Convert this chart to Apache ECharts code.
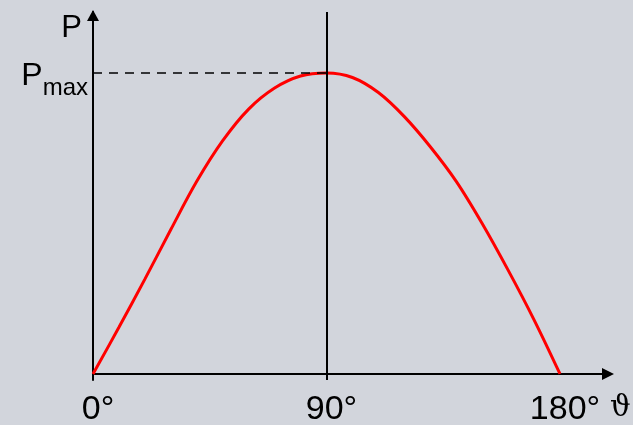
<!DOCTYPE html>
<html>
<head>
<meta charset="utf-8">
<style>
  html, body { margin: 0; padding: 0; background: #d2d5dc; }
  #chart { width: 633px; height: 425px; }
</style>
<script src="https://cdn.jsdelivr.net/npm/echarts@6/dist/echarts.min.js"></script>
</head>
<body>
<div id="chart"></div>
<script>
// Power transfer curve P(ϑ) of a synchronous machine, normalised to Pmax = 1
const angles = [0, 10, 20, 30, 40, 50, 60, 70, 80, 90, 100, 110, 120, 130, 140, 150, 160, 170, 180];
const power  = [0, 0.155, 0.315, 0.48, 0.64, 0.775, 0.88, 0.95, 0.99, 1.0, 0.985, 0.935, 0.855, 0.755, 0.64, 0.50, 0.345, 0.18, 0];
const tickAngles = [0, 90, 180];
const PMAX = 1;
const PEAK_ANGLE = 90;

// axis extents reach a little past the data so the arrow heads sit clear of the curve;
// the small negative P minimum lets the P axis poke just below the ϑ axis
const X_MAX = 198.5;
const Y_MIN = -0.02;
const Y_MAX = 1.2026;

const FONT = "'Liberation Sans', Arial, sans-serif";

const chart = echarts.init(document.getElementById('chart'), null, { renderer: 'canvas' });

chart.setOption({
  backgroundColor: '#d2d5dc',
  animation: false,
  grid: { left: 93, right: 25, top: 12, bottom: 45, containLabel: false, outerBoundsMode: 'none' },
  xAxis: {
    type: 'value',
    min: 0,
    max: X_MAX,
    interval: 90,
    name: 'ϑ',
    nameLocation: 'end',
    nameGap: 2,
    nameTextStyle: {
      fontFamily: "'DejaVu Serif', serif",
      fontSize: 29,
      color: '#000',
      align: 'left',
      verticalAlign: 'top',
      lineHeight: 68
    },
    axisLine: {
      onZero: true,
      lineStyle: { color: '#000', width: 2 },
      symbol: ['none', 'triangle'],
      symbolSize: [12, 12],
      symbolOffset: [0, 0]
    },
    axisTick: { show: false },
    splitLine: { show: false },
    axisLabel: {
      showMaxLabel: false,
      margin: 13,
      fontFamily: FONT,
      fontSize: 34,
      color: '#000',
      padding: [0, 0, 0, 10],
      formatter: function (v) {
        return tickAngles.indexOf(v) >= 0 ? v + '°' : '';
      }
    }
  },
  yAxis: {
    type: 'value',
    min: Y_MIN,
    max: Y_MAX,
    name: 'P',
    nameLocation: 'end',
    nameGap: -1,
    nameTextStyle: {
      fontFamily: FONT,
      fontSize: 31,
      color: '#000',
      align: 'right',
      verticalAlign: 'top',
      padding: [0, 11, 0, 0]
    },
    axisLine: {
      lineStyle: { color: '#000', width: 2 },
      symbol: ['none', 'triangle'],
      symbolSize: [12, 11],
      symbolOffset: [0, -3.5]
    },
    axisTick: { show: false },
    axisLabel: { show: false },
    splitLine: { show: false }
  },
  series: [{
    type: 'line',
    data: angles.map((a, i) => [a, power[i]]),
    smooth: 0.35,
    showSymbol: false,
    lineStyle: { color: '#ff0000', width: 3 },
    z: 3,
    markLine: {
      silent: true,
      symbol: ['none', 'none'],
      label: { show: false },
      data: [
        // Pmax level
        [
          {
            coord: [0, PMAX],
            lineStyle: { color: '#000', width: 1.5, type: [9, 7] },
            label: {
              show: true,
              position: 'start',
              distance: 5,
              padding: [6, 0, 0, 0],
              formatter: '{p|P}{s|max}',
              rich: {
                p: { fontFamily: FONT, fontSize: 32, color: '#000', lineHeight: 48, verticalAlign: 'middle' },
                s: { fontFamily: FONT, fontSize: 24, color: '#000', lineHeight: 20, verticalAlign: 'bottom' }
              }
            }
          },
          { coord: [PEAK_ANGLE, PMAX] }
        ],
        // vertical at 90°
        [
          { coord: [PEAK_ANGLE, Y_MIN], lineStyle: { color: '#000', width: 2, type: 'solid' } },
          { coord: [PEAK_ANGLE, Y_MAX] }
        ]
      ]
    }
  }]
});
</script>
</body>
</html>
